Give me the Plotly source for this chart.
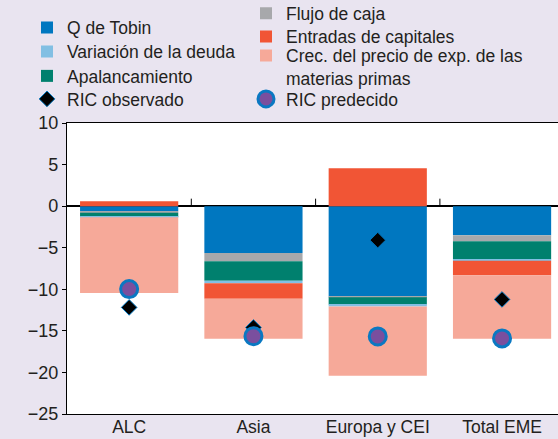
import plotly.graph_objects as go

# ---------------- data ----------------
categories = ["ALC", "Asia", "Europa y CEI", "Total EME"]

q_tobin = [-0.60, -5.65, -10.86, -3.49]
flujo_caja = [-0.20, -0.97, -0.09, -0.72]
apalancamiento = [-0.50, -2.36, -0.87, -2.17]
variacion_deuda = [-0.03, -0.28, -0.24, -0.20]
entradas_capitales = [0.60, -1.89, 4.57, -1.72]
crec_precio = [-9.13, -4.81, -8.35, -7.66]

ric_observado = [-12.18, -14.59, -4.09, -11.22]
ric_predecido = [-9.98, -15.64, -15.67, -15.91]

y_ticks = [10, 5, 0, -5, -10, -15, -20, -25]

# ---------------- styles ----------------
BG = "#E9E4F0"
FONT = "Liberation Sans, Arial, sans-serif"
TXT = "#231F20"
FS = 18
LFS = 17.5

W, H = 558, 439

fig = go.Figure()

bar_series = [
    ("Q de Tobin", q_tobin, "#0077C0"),
    ("Flujo de caja", flujo_caja, "#A7A8AB"),
    ("Apalancamiento", apalancamiento, "#00806E"),
    ("Variación de la deuda", variacion_deuda, "#82BFE3"),
    ("Entradas de capitales", entradas_capitales, "#F15535"),
    ("Crec. del precio de exp. de las<br>materias primas", crec_precio, "#F6A999"),
]

# legend positions (container px): marker centre x, item y
leg_pos = {
    "Q de Tobin": (46, 27.5, "middle"),
    "Variación de la deuda": (46, 51.7, "middle"),
    "Apalancamiento": (46, 76, "middle"),
    "RIC observado": (46, 99, "middle"),
    "Flujo de caja": (265, 13.3, "middle"),
    "Entradas de capitales": (265, 36.5, "middle"),
    "Crec. del precio de exp. de las<br>materias primas": (265, 58.5, "top"),
    "RIC predecido": (265, 99, "middle"),
}
leg_names = list(leg_pos.keys())

def legend_id(name):
    i = leg_names.index(name)
    return "legend" if i == 0 else f"legend{i+1}"

for name, vals, col in bar_series:
    fig.add_trace(go.Bar(
        x=categories, y=vals, name=name,
        marker=dict(color=col, line=dict(width=0)),
        width=0.79,
        legend=legend_id(name),
    ))

fig.add_trace(go.Scatter(
    x=categories, y=ric_observado, mode="markers", name="RIC observado",
    marker=dict(symbol="diamond", size=12, color="#000000",
                line=dict(color="#0077C0", width=1)),
    legend=legend_id("RIC observado"),
))
fig.add_trace(go.Scatter(
    x=categories, y=ric_predecido, mode="markers", name="RIC predecido",
    marker=dict(symbol="circle", size=17, color="#7A4F9E",
                line=dict(color="#0A78C2", width=3)),
    legend=legend_id("RIC predecido"),
))

# category separator ticks on the zero line
for i in range(len(categories) - 1):
    fig.add_shape(type="line", xref="x", yref="y",
                  x0=i + 0.5, x1=i + 0.5, y0=0, y1=0.9,
                  line=dict(color="#000000", width=1))

# legends
layout_legends = {}
for i, name in enumerate(leg_names):
    mx, my, va = leg_pos[name]
    key = "legend" if i == 0 else f"legend{i+1}"
    if va == "top":
        yy = 1 - (my - 21) / H
        yanchor = "top"
    else:
        yy = 1 - my / H
        yanchor = "middle"
    layout_legends[key] = dict(
        xref="container", yref="container",
        x=(mx - 19) / W, y=yy, xanchor="left", yanchor=yanchor,
        bgcolor="rgba(0,0,0,0)", borderwidth=0,
        font=dict(family=FONT, size=LFS, color=TXT),
        valign="top" if va == "top" else "middle",
        itemwidth=30,
    )

plot_left, plot_right = 67, W
cat_px = 124.3
x_range = [-0.5, -0.5 + (plot_right - plot_left) / cat_px]

fig.update_layout(
    width=W, height=H,
    paper_bgcolor=BG, plot_bgcolor="#FFFFFF",
    margin=dict(l=plot_left, r=W - plot_right, t=123, b=H - 414, pad=0,
                autoexpand=False),
    barmode="relative",
    font=dict(family=FONT, size=FS, color=TXT),
    showlegend=True,
    **layout_legends,
)

fig.update_xaxes(
    type="category", range=x_range,
    showline=True, linecolor="#000000", linewidth=1.2, mirror=True,
    showgrid=False, ticks="", zeroline=False,
    ticklabelstandoff=-3,
    tickfont=dict(family=FONT, size=17.5, color=TXT),
)
fig.update_yaxes(
    range=[-25, 10], tickvals=y_ticks,
    showline=True, linecolor="#000000", linewidth=1.2, mirror=False,
    showgrid=False, ticks="outside", ticklen=4, tickcolor="#000000",
    zeroline=True, zerolinecolor="#000000", zerolinewidth=1.5,
    tickfont=dict(family=FONT, size=FS, color=TXT),
)

fig.write_html(
    "out.html",
    config={"displayModeBar": False},
    post_script="document.body.style.margin='0';document.body.style.overflow='hidden';",
)
